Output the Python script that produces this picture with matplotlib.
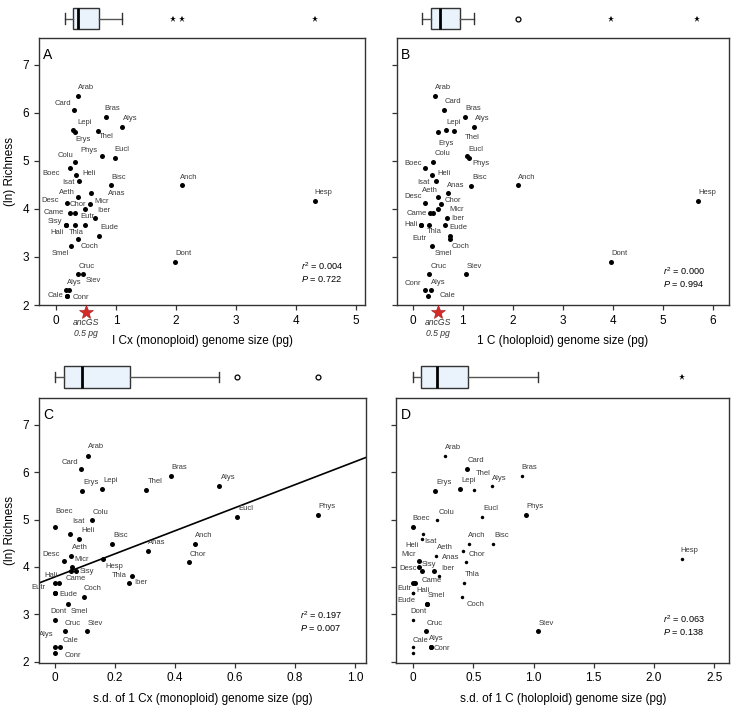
import matplotlib
matplotlib.use("Agg")
from matplotlib import pyplot as plt

plt.rcParams['font.family'] = ['Liberation Sans', 'DejaVu Sans']
plt.rcParams['mathtext.fontset'] = 'custom'
plt.rcParams['mathtext.rm'] = 'Liberation Sans'
plt.rcParams['mathtext.it'] = 'Liberation Sans:italic'

# ---------------- data ----------------
# A: 1 Cx (monoploid) genome size vs (ln) richness
a_lab = ['Arab', 'Card', 'Bras', 'Alys', 'Lepi', 'Erys', 'Thel', 'Phys', 'Eucl', 'Colu',
         'Boec', 'Heli', 'Isat', 'Bisc', 'Anch', 'Anas', 'Aeth', 'Desc', 'Micr', 'Chor',
         'Hesp', 'Came', '', 'Iber', 'Sisy', 'Hali', 'Thla', 'Eutr', 'Eude', 'Coch',
         'Smel', 'Dont', 'Cruc', 'Stev', 'Alys', '', 'Cale', 'Conr']
a_x = [0.36, 0.30, 0.84, 1.10, 0.28, 0.32, 0.70, 0.77, 0.98, 0.32,
       0.23, 0.34, 0.38, 0.91, 2.10, 0.59, 0.36, 0.19, 0.56, 0.49,
       4.32, 0.24, 0.31, 0.65, 0.16, 0.16, 0.31, 0.49, 0.72, 0.36,
       0.25, 1.98, 0.37, 0.45, 0.16, 0.22, 0.19, 0.19]
a_y = [6.35, 6.06, 5.92, 5.71, 5.65, 5.61, 5.63, 5.10, 5.06, 4.98,
       4.85, 4.70, 4.58, 4.49, 4.49, 4.33, 4.24, 4.12, 4.10, 3.99,
       4.17, 3.91, 3.91, 3.81, 3.67, 3.67, 3.67, 3.67, 3.44, 3.37,
       3.22, 2.89, 2.64, 2.64, 2.31, 2.31, 2.19, 2.19]

# B: 1 C (holoploid) genome size
b_lab = ['Arab', 'Card', 'Bras', 'Alys', 'Lepi', 'Erys', 'Thel', 'Eucl', 'Phys', 'Colu',
         'Boec', 'Heli', 'Isat', 'Bisc', 'Anas', 'Anch', 'Aeth', 'Desc', 'Chor', 'Micr',
         'Hesp', 'Came', '', 'Iber', 'Hali', 'Eutr', 'Thla', 'Eude', '', 'Coch',
         'Smel', 'Dont', 'Cruc', 'Stev', 'Conr', 'Alys', 'Cale']
b_x = [0.45, 0.63, 1.05, 1.22, 0.67, 0.51, 0.82, 1.09, 1.12, 0.41,
       0.25, 0.39, 0.47, 1.17, 0.70, 2.11, 0.51, 0.25, 0.57, 0.50,
       5.71, 0.34, 0.40, 0.69, 0.17, 0.17, 0.33, 0.65, 0.74, 0.74,
       0.39, 3.97, 0.33, 1.06, 0.24, 0.36, 0.31]
b_y = [6.35, 6.06, 5.92, 5.71, 5.65, 5.61, 5.63, 5.11, 5.06, 4.98,
       4.85, 4.70, 4.58, 4.48, 4.33, 4.49, 4.24, 4.12, 4.10, 3.99,
       4.17, 3.91, 3.91, 3.81, 3.67, 3.67, 3.67, 3.67, 3.44, 3.37,
       3.22, 2.89, 2.64, 2.64, 2.31, 2.31, 2.19]

# C: s.d. of 1 Cx (monoploid) genome size
c_lab = ['Arab', 'Card', 'Bras', 'Alys', 'Erys', 'Lepi', 'Thel', 'Eucl', 'Phys', 'Colu',
         'Boec', 'Heli', 'Isat', 'Bisc', 'Anch', 'Anas', 'Aeth', 'Desc', 'Hesp', 'Chor',
         'Micr', '', 'Sisy', 'Thla', 'Iber', 'Hali', 'Came', 'Eutr', 'Eude', 'Coch',
         'Smel', 'Dont', 'Cruc', 'Stev', 'Alys', 'Cale', 'Conr']
c_x = [0.109, 0.086, 0.386, 0.548, 0.091, 0.158, 0.304, 0.606, 0.878, 0.124,
       0.001, 0.050, 0.080, 0.191, 0.468, 0.311, 0.054, 0.029, 0.159, 0.447,
       0.056, 0.052, 0.070, 0.257, 0.247, 0.000, 0.014, 0.001, 0.001, 0.097,
       0.043, 0.001, 0.033, 0.108, 0.001, 0.018, 0.001]
c_y = [6.35, 6.06, 5.92, 5.71, 5.61, 5.65, 5.63, 5.06, 5.10, 4.98,
       4.85, 4.70, 4.58, 4.49, 4.49, 4.33, 4.24, 4.12, 4.17, 4.10,
       3.99, 3.91, 3.91, 3.81, 3.67, 3.67, 3.67, 3.44, 3.44, 3.37,
       3.22, 2.89, 2.64, 2.64, 2.31, 2.31, 2.19]
c_fit = [3.79, 2.43]  # intercept, slope of the drawn regression line

# D: s.d. of 1 C (holoploid) genome size; big = 1 for the larger dots
d_lab = ['Arab', 'Card', 'Bras', 'Thel', 'Alys', 'Erys', 'Lepi', 'Eucl', 'Phys', 'Colu',
         'Boec', 'Heli', 'Isat', 'Anch', 'Bisc', 'Hesp', 'Aeth', 'Anas', 'Chor', 'Micr',
         'Desc', 'Sisy', 'Iber', '', '', 'Came', 'Thla', 'Eutr', 'Hali', 'Eude',
         'Smel', 'Coch', 'Dont', 'Cruc', 'Stev', 'Cale', 'Alys', 'Conr', '']
d_x = [0.268, 0.451, 0.902, 0.509, 0.653, 0.185, 0.393, 0.570, 0.938, 0.202,
       0.000, 0.086, 0.075, 0.465, 0.664, 2.230, 0.191, 0.412, 0.443, 0.053,
       0.053, 0.072, 0.177, 0.216, 0.003, 0.019, 0.420, 0.000, 0.000, 0.119,
       0.119, 0.409, 0.000, 0.105, 1.040, 0.000, 0.147, 0.147, 0.000]
d_y = [6.35, 6.06, 5.92, 5.63, 5.71, 5.61, 5.65, 5.06, 5.10, 4.98,
       4.85, 4.70, 4.58, 4.49, 4.49, 4.17, 4.24, 4.33, 4.10, 4.12,
       3.99, 3.91, 3.91, 3.81, 3.67, 3.67, 3.67, 3.44, 3.44, 3.22,
       3.22, 3.37, 2.89, 2.64, 2.64, 2.31, 2.31, 2.31, 2.19]
d_big = [0, 1, 0, 0, 0, 1, 1, 0, 1, 0,
         1, 0, 0, 0, 0, 0, 0, 0, 0, 1,
         1, 1, 1, 0, 1, 1, 0, 0, 0, 1,
         1, 0, 0, 1, 1, 0, 1, 1, 0]

# boxplots above each panel: whislo, q1, median, q3, whishi
a_box = [0.15, 0.29, 0.36, 0.71, 1.10]
b_box = [0.19, 0.37, 0.55, 0.95, 1.23]
c_box = [0.001, 0.031, 0.09, 0.251, 0.548]
d_box = [0.0, 0.064, 0.20, 0.459, 1.04]
a_mild, a_extreme = [], [1.95, 2.10, 4.31]
b_mild, b_extreme = [2.10], [3.97, 5.69]
c_mild, c_extreme = [0.606, 0.878], []
d_mild, d_extreme = [], [2.23]

stats_txt = {'A': ('0.004', '0.722'), 'B': ('0.000', '0.994'),
             'C': ('0.197', '0.007'), 'D': ('0.063', '0.138')}
anc_gs = 0.5

# ---------------- label offsets (pixels, x right / y up) ----------------
a_off = [(8, 8.7), (-11.3, 6.3), (6, 8.3), (8, 8.3), (11.7, 7.3), (8.3, -7.7), (8, -6.3), (-13.3, 5.7),
         (7, 8.3), (-9.7, 6.7), (-19, -5.3), (12.3, 2), (-10.7, -1.3), (8, 8), (6.7, 8.3), (25.3, -0.7),
         (-11, 5.3), (-17, 2.7), (11.7, 3), (-7.7, 4.7), (8.3, 8), (-16.3, 0.7), (0, 0), (9, 8),
         (-10.3, 3.3), (-8.3, -7.3), (2, -7.3), (2, 8), (10, 8), (11.7, -7), (-11, -7), (9, 8.3),
         (8.3, 8), (10.7, -6.7), (8.3, 8), (0, 0), (-12, 0.3), (13, -1.3)]
b_off = [(8.3, 8.7), (8.3, 8.3), (8, 8.7), (8.3, 8.3), (7.3, 7.7), (8.3, -11.7), (19, -7), (8.7, 5.7),
         (12.3, -5), (9, 8.3), (-11.7, 5), (11.3, 2), (-12.7, -1), (8.3, 8.7), (7.7, 8), (8.3, 8.3),
         (-8.3, 6.7), (-11.7, 6.7), (12, 3.7), (19, 0), (8.7, 8.3), (-13, 0), (0, 0), (10.3, 0),
         (-10.3, 0), (-2, -14), (5.3, -7), (13, -2.3), (0, 0), (11.3, -7), (11.3, -7), (8.7, 8.3),
         (9, 8), (8.7, 8), (-12, 6.3), (8, 8), (19.7, 0)]
c_off = [(8.3, 8.7), (-10.7, 6.7), (8.3, 8.3), (8.7, 8.3), (8.7, 8.3), (8.7, 8), (9.3, 8.3), (9.3, 8.3),
         (9, 8.3), (8.7, 8.3), (8.7, 14.7), (18.3, 3), (0, 17.7), (8.3, 8.3), (8, 8.3), (8.3, 8.3),
         (8.7, 8), (-12, 6.7), (11.3, -7.7), (8.7, 8), (10, 8), (0, 0), (11.3, 0), (-13, 0),
         (12.3, 0), (-4.3, 7.3), (16.7, 3.7), (-16.3, 6), (13, -0.7), (8.7, 8.3), (11.3, -7.7), (3.7, 8.3),
         (8.3, 8), (8.3, 8), (-8.7, 12.7), (10, 7), (18, -2.7)]
d_off = [(8, 8), (8.7, 8.3), (7.7, 8), (9, 16), (7.7, 7.7), (8.3, 8.3), (8.7, 8), (8.7, 7.7),
         (8.7, 8.3), (8.7, 8), (7.7, 7.7), (-11.3, -12), (8.3, -1.7), (8, 8), (8.3, 8.3), (7.7, 8),
         (9, 8), (-11.7, -6.7), (10.3, 7.7), (-10.7, 6.3), (-11.3, -1.3), (7.7, 6.7), (13, 2.3), (0, 0),
         (0, 0), (16, 2), (9, 7.7), (-9, 5), (10.3, 3.3), (-21.3, 3), (9.3, 8.7), (13.7, -7.3),
         (5.7, 8), (8.7, 8), (7.7, 8), (7.7, 6.3), (6, 8.3), (11.3, -1), (0, 0)]

W, H = 732, 707
EDGE = '#333333'


def rect(left, top, right, bottom):
    return [left / W, 1 - bottom / H, (right - left) / W, (bottom - top) / H]


def scatter_panel(ax, xs, ys, labs, offs, big=None):
    for i in range(len(xs)):
        ms = 3.6
        if big is not None and big[i] == 0:
            ms = 2.5
        ax.plot(xs[i], ys[i], 'o', color='black', ms=ms, mew=0, zorder=3)
        if labs[i]:
            ax.annotate(labs[i], (xs[i], ys[i]), xytext=offs[i], textcoords='offset pixels',
                        ha='center', va='center', fontsize=5.5, color='#3a3a3a')


def style_axes(ax, xlim, xticks, xticklabels, ylim, show_ylab):
    ax.set_xlim(xlim)
    ax.set_ylim(ylim)
    ax.set_xticks(xticks)
    ax.set_xticklabels(xticklabels)
    ax.set_yticks([2, 3, 4, 5, 6, 7])
    if show_ylab:
        ax.set_ylabel('(ln) Richness', fontsize=8.5, labelpad=5)
    else:
        ax.set_yticklabels([])
    for s in ax.spines.values():
        s.set_color(EDGE)
        s.set_linewidth(1.0)
    ax.tick_params(direction='out', length=3.5, width=0.9, color=EDGE, labelsize=8.5, pad=3.5)


def box_panel(r, xlim, box, mild, extreme):
    bax = fig.add_axes(r)
    st = {'whislo': box[0], 'q1': box[1], 'med': box[2], 'q3': box[3], 'whishi': box[4], 'fliers': []}
    bax.bxp([st], positions=[0], widths=0.7, capwidths=0.35, orientation='horizontal',
            patch_artist=True, showfliers=False, manage_ticks=False,
            boxprops=dict(facecolor='#eaf2fc', edgecolor=EDGE, linewidth=1.0),
            medianprops=dict(color='black', linewidth=2.0),
            whiskerprops=dict(color='#555555', linewidth=1.0),
            capprops=dict(color=EDGE, linewidth=1.0))
    if mild:
        bax.plot(mild, [0] * len(mild), 'o', ms=3.5, mfc='white', mec='black', mew=0.9)
    if extreme:
        bax.plot(extreme, [0] * len(extreme), '*', ms=5, color='black', mew=0)
    bax.set_xlim(xlim)
    bax.set_ylim(-0.5, 0.5)
    bax.axis('off')


def anc_marker(ax):
    tr = ax.get_xaxis_transform()
    ax.plot(anc_gs, -0.025, '*', ms=10, color='#d42a2a', mec='#a01818', mew=0.4,
            transform=tr, clip_on=False, zorder=5)
    ax.text(anc_gs, -0.066, 'ancGS', transform=tr, ha='center', va='center',
            fontsize=6.2, style='italic', color='#333333')
    ax.text(anc_gs, -0.106, '0.5 pg', transform=tr, ha='center', va='center',
            fontsize=6.2, style='italic', color='#333333')


def stat_text(ax, key, x, y):
    r2, p = stats_txt[key]
    ax.text(x, y, '$r^2$ = ' + r2 + '\n$P$ = ' + p, transform=ax.transAxes,
            ha='right', va='center', multialignment='left', fontsize=6.6, linespacing=1.25)


fig = plt.figure(figsize=(W / 100, H / 100), dpi=100)

axA = fig.add_axes(rect(39, 38, 365, 305))
axB = fig.add_axes(rect(396.7, 38, 728.7, 305))
axC = fig.add_axes(rect(39, 397.7, 366, 662.7))
axD = fig.add_axes(rect(396.3, 397.7, 729.3, 662.7))

xlA = (-0.283, 5.15)
xlB = (-0.32, 6.32)
xlC = (-0.053, 1.037)
xlD = (-0.139, 2.625)

scatter_panel(axA, a_x, a_y, a_lab, a_off)
scatter_panel(axB, b_x, b_y, b_lab, b_off)
scatter_panel(axC, c_x, c_y, c_lab, c_off)
scatter_panel(axD, d_x, d_y, d_lab, d_off, d_big)

# regression line in C
lx = list(xlC)
axC.plot(lx, [c_fit[0] + c_fit[1] * v for v in lx], color='black', lw=1.2, zorder=2)

style_axes(axA, xlA, [0, 1, 2, 3, 4, 5], ['0', '1', '2', '3', '4', '5'], (2, 7.56), True)
style_axes(axB, xlB, [0, 1, 2, 3, 4, 5, 6], ['0', '1', '2', '3', '4', '5', '6'], (2, 7.56), False)
style_axes(axC, xlC, [0, 0.2, 0.4, 0.6, 0.8, 1.0], ['0', '0.2', '0.4', '0.6', '0.8', '1.0'], (1.98, 7.57), True)
style_axes(axD, xlD, [0, 0.5, 1.0, 1.5, 2.0, 2.5], ['0', '0.5', '1.0', '1.5', '2.0', '2.5'], (1.98, 7.57), False)

axA.set_xlabel('I Cx (monoploid) genome size (pg)', fontsize=8.5, labelpad=6)
axB.set_xlabel('1 C (holoploid) genome size (pg)', fontsize=8.5, labelpad=6)
axC.set_xlabel('s.d. of 1 Cx (monoploid) genome size (pg)', fontsize=8.5, labelpad=6)
axD.set_xlabel('s.d. of 1 C (holoploid) genome size (pg)', fontsize=8.5, labelpad=6)

for ax, letter in [(axA, 'A'), (axB, 'B'), (axC, 'C'), (axD, 'D')]:
    ax.text(0.013, 0.962, letter, transform=ax.transAxes, ha='left', va='top', fontsize=10)

anc_marker(axA)
anc_marker(axB)

stat_text(axA, 'A', 0.932, 0.124)
stat_text(axB, 'B', 0.929, 0.105)
stat_text(axC, 'C', 0.928, 0.158)
stat_text(axD, 'D', 0.927, 0.143)

box_panel(rect(39, 3.3, 365, 34), xlA, a_box, a_mild, a_extreme)
box_panel(rect(396.7, 3.3, 728.7, 34), xlB, b_box, b_mild, b_extreme)
box_panel(rect(39, 361.65, 366, 392.35), xlC, c_box, c_mild, c_extreme)
box_panel(rect(396.3, 361.65, 729.3, 392.35), xlD, d_box, d_mild, d_extreme)

fig.savefig('out.png', dpi=100)
